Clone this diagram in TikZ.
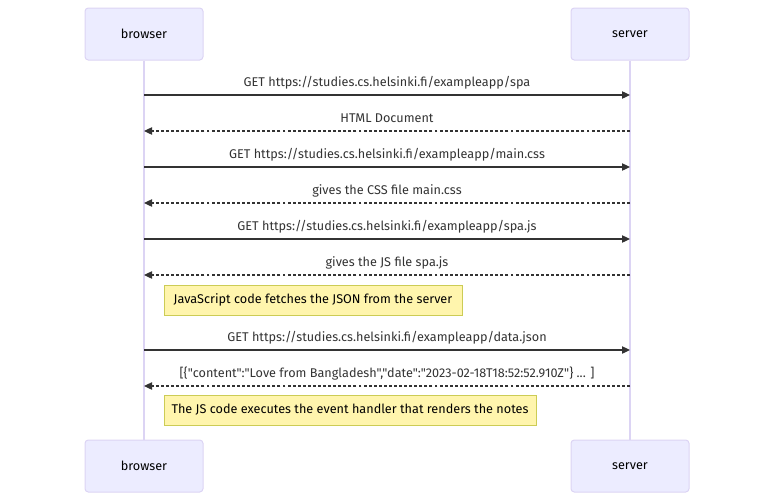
\documentclass[tikz,border=0pt]{standalone}
\usepackage{fontspec}
\newfontfamily\dfont{Fira Sans}
\usetikzlibrary{arrows.meta}
\definecolor{actfill}{HTML}{ECECFF}
\definecolor{actline}{HTML}{DCD4F4}
\definecolor{notefill}{HTML}{FFF5AD}
\definecolor{noteline}{HTML}{CCCC55}
\definecolor{msg}{HTML}{333333}
\tikzset{
  actor/.style={draw=actline, fill=actfill, rounded corners=2.5pt, line width=0.75pt,
    minimum width=88.5pt, minimum height=39pt, inner sep=0pt, font=\dfont\fontsize{9.5}{11}\selectfont, text=black},
  lifeline/.style={draw=actline, line width=0.9pt},
  req/.style={draw=msg, line width=0.9pt, -{Triangle[length=6pt,width=5.5pt]}},
  resp/.style={req, dash pattern=on 2.2pt off 1.6pt},
  lbl/.style={font=\dfont\fontsize{9.5}{11}\selectfont, text=msg, inner sep=0pt, text depth=2.5pt},
  note/.style={draw=noteline, fill=notefill, line width=0.75pt, minimum height=22.5pt,
    inner sep=0pt, font=\dfont\fontsize{9.5}{11}\selectfont, text=black},
}
\begin{document}
\begin{tikzpicture}[x=0.75pt,y=-0.75pt]
\useasboundingbox (0,0) rectangle (774,500);
\node[actor] (bt) at (144,34) {browser};
\node[actor] (st) at (630,34) {server};
\node[actor] (bb) at (144,466) {browser};
\node[actor] (sb) at (630,466) {server};
\draw[lifeline] (bt.south) -- (bb.north);
\draw[lifeline] (st.south) -- (sb.north);
% message anchor points on the lifelines
\foreach \n/\y in {1/95,2/131,3/167,4/203,5/239,6/275,7/350,8/386}{
  \coordinate (b\n) at (144,\y);
  \coordinate (s\n) at (630,\y);
}
\draw[req] (b1) -- node[lbl, above=3.5pt] (m1) {GET https://studies.cs.helsinki.fi/exampleapp/spa} (s1);
\draw[resp] (s2) -- node[lbl, above=3.5pt] (m2) {HTML Document} (b2);
\draw[req] (b3) -- node[lbl, above=3.5pt] (m3) {GET https://studies.cs.helsinki.fi/exampleapp/main.css} (s3);
\draw[resp] (s4) -- node[lbl, above=3.5pt] (m4) {gives the CSS file main.css} (b4);
\draw[req] (b5) -- node[lbl, above=3.5pt] (m5) {GET https://studies.cs.helsinki.fi/exampleapp/spa.js} (s5);
\draw[resp] (s6) -- node[lbl, above=3.5pt] (m6) {gives the JS file spa.js} (b6);
\node[note, minimum width=223.5pt] (n1) at (313,300) {JavaScript code fetches the JSON from the server};
\draw[req] (b7) -- node[lbl, above=3.5pt] (m7) {GET https://studies.cs.helsinki.fi/exampleapp/data.json} (s7);
\draw[resp] (s8) -- node[lbl, above=3.5pt] (m8) {[\{"content":"Love from Bangladesh","date":"2023-02-18T18:52:52.910Z"\} ... ]} (b8);
\node[note, minimum width=279pt] (n2) at (350,410) {The JS code executes the event handler that renders the notes};
\end{tikzpicture}
\end{document}
